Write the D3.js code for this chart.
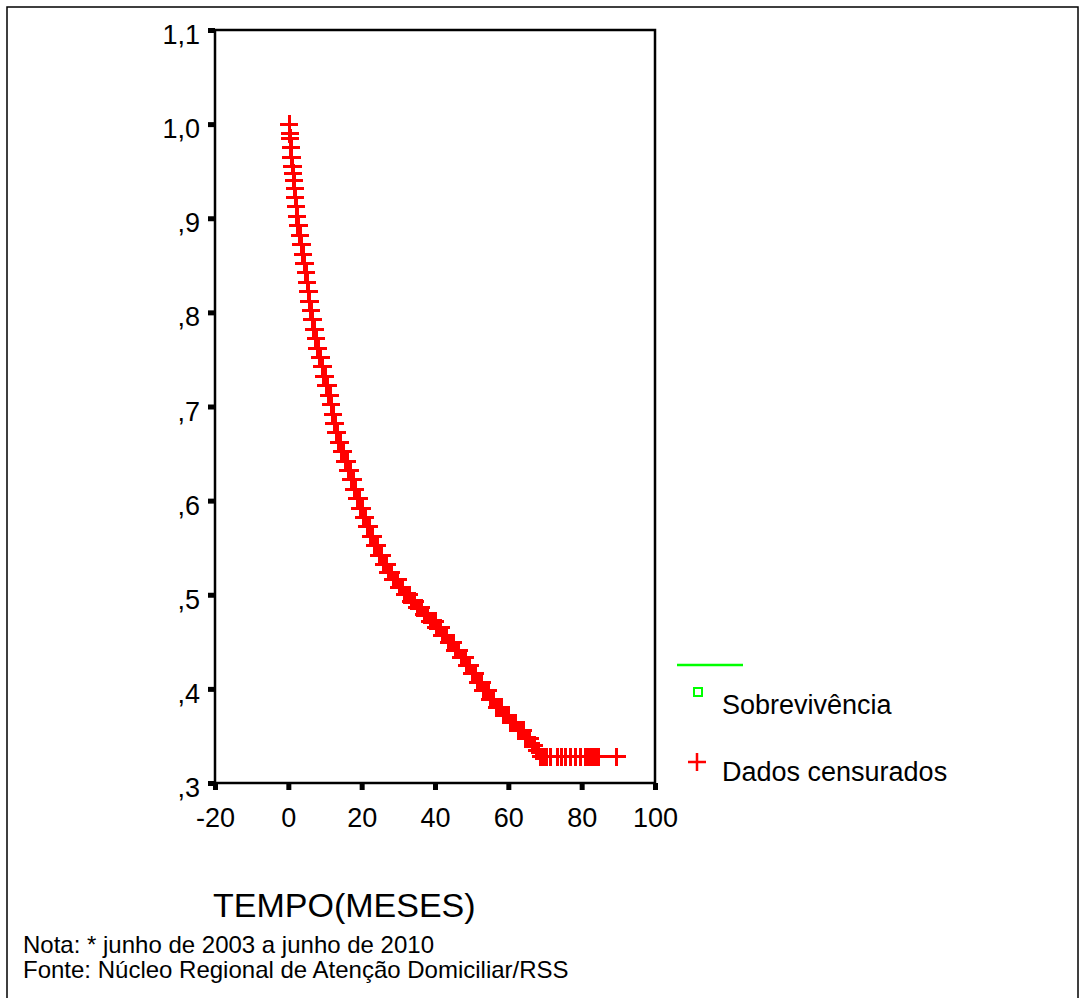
<!DOCTYPE html>
<html lang="pt">
<head>
    <meta charset="UTF-8">
    <title>Sobrevivência</title>
    <style>
        body { margin: 0; background: #fff; }
        text { font-family: Arial, "Liberation Sans", sans-serif; fill: #000; }
    </style>
</head>
<body>
<div class="chart"></div>

<script src="https://d3js.org/d3.v7.min.js"></script>
<script>
    // Kaplan-Meier steps (tempo em meses, sobrevivência acumulada)
    const stepTime = [0, 0.3, 0.5, 0.6, 0.8, 1.0, 1.2, 1.4, 1.6, 1.8, 2.0, 2.2, 2.5, 3.0, 3.4,
        3.8, 4.2, 4.6, 5.0, 5.3, 5.6, 6.0, 6.4, 6.8, 7.3, 7.8, 8.3, 8.9, 9.5, 10.2,
        10.9, 11.5, 12.0, 12.4, 12.9, 13.6, 14.5, 15.4, 16.2, 17.1, 17.9, 18.7, 19.5, 20.4, 21.3,
        22.3, 23.4, 24.6, 25.8, 27.0, 28.4, 30.0, 31.6, 33.3, 35.0, 36.8, 38.5, 40.2, 41.9, 43.6,
        45.3, 47.0, 48.5, 50.0, 51.5, 53.0, 54.8, 56.6, 58.5, 60.5, 62.5, 64.5, 66.0, 67.5, 68.5]
    const stepSurv = [1.0, 0.990, 0.985, 0.975, 0.965, 0.955, 0.948, 0.940, 0.932, 0.922, 0.912, 0.902, 0.892, 0.882, 0.872,
        0.862, 0.852, 0.842, 0.832, 0.822, 0.812, 0.802, 0.792, 0.782, 0.772, 0.762, 0.752, 0.742, 0.732, 0.722,
        0.712, 0.702, 0.692, 0.682, 0.672, 0.662, 0.652, 0.642, 0.632, 0.622, 0.612, 0.602, 0.592, 0.582, 0.572,
        0.562, 0.552, 0.542, 0.532, 0.524, 0.516, 0.508, 0.500, 0.493, 0.486, 0.479, 0.472, 0.465, 0.457, 0.449,
        0.441, 0.433, 0.425, 0.416, 0.407, 0.398, 0.389, 0.380, 0.372, 0.364, 0.356, 0.347, 0.340, 0.334, 0.328]
    // censored observations (tempo)
    const censorTime = [0.2, 0.25, 0.35, 0.4, 0.45, 0.55, 0.65, 0.7, 0.75, 0.85, 0.9, 0.95, 1.05, 1.1, 1.15,
        1.3, 1.35, 1.5, 1.55, 1.7, 1.75, 1.9, 1.95, 2.1, 2.15, 2.3, 2.4, 2.45, 2.6, 2.7,
        2.9, 3.1, 3.2, 3.3, 3.5, 3.6, 3.9, 4.0, 4.1, 4.3, 4.4, 4.5, 4.7, 4.8, 4.9,
        5.1, 5.2, 5.4, 5.5, 5.7, 5.8, 6.1, 6.2, 6.3, 6.5, 6.6, 6.9, 7.0, 7.2, 7.5,
        7.6, 7.9, 8.0, 8.2, 8.5, 8.7, 8.8, 9.2, 9.4, 9.6, 9.8, 10.0, 10.3, 10.5, 10.8,
        11.0, 11.2, 11.4, 11.7, 12.1, 12.2, 12.5, 12.6, 12.8, 13.0, 13.2, 13.4, 13.7, 13.9, 14.0,
        14.2, 14.6, 14.9, 15.0, 15.5, 15.8, 16.0, 16.3, 16.6, 16.9, 17.2, 17.5, 17.7, 18.0, 18.3,
        18.8, 19.0, 19.3, 19.6, 19.9, 20.1, 20.6, 20.8, 21.0, 21.5, 21.8, 22.0, 22.5, 22.8, 23.0,
        23.6, 23.9, 24.2, 24.8, 25.1, 25.5, 26.0, 26.3, 26.8, 27.2, 27.5, 28.0, 28.6, 28.9, 29.4,
        29.8, 30.2, 30.6, 31.0, 31.8, 32.2, 33.0, 33.5, 33.9, 34.5, 35.2, 35.6, 36.2, 37.0, 37.4,
        38.0, 38.7, 39.1, 39.6, 40.0, 40.4, 40.8, 41.5, 42.0, 42.5, 43.0, 43.8, 44.2, 45.0, 45.5,
        45.9, 46.5, 47.2, 47.5, 48.2, 48.7, 49.0, 49.5, 50.2, 50.6, 51.0, 51.7, 52.2, 52.8, 53.2,
        53.7, 54.5, 55.0, 55.5, 56.0, 56.8, 57.4, 58.0, 58.8, 59.3, 60.0, 60.7, 61.2, 61.8, 62.0,
        62.7, 63.2, 64.0, 64.7, 65.2, 65.8, 66.6, 67.0, 67.7, 68.0, 68.3, 68.8, 69.2, 69.6, 70.0,
        70.2, 70.5, 71.4, 73.3, 74.6, 75.5, 76.9, 78.3, 79.6, 81.0, 81.4, 81.8, 82.0, 82.5, 83.2,
        83.6, 84.0, 84.7, 89.5]
    const xTicks = [-20, 0, 20, 40, 60, 80, 100]
    const yTicks = [0.3, 0.4, 0.5, 0.6, 0.7, 0.8, 0.9, 1.0, 1.1]
    const legendLabels = ['Sobrevivência', 'Dados censurados']

    const plot = { left: 215, right: 655, top: 30, bottom: 783 }

    const svg = d3.select('.chart')
        .append('svg')
        .attr('width', 1085)
        .attr('height', 998)

    // outer frame
    svg.append('rect')
        .attr('x', 7).attr('y', 7)
        .attr('width', 1071).attr('height', 1010)
        .attr('fill', 'none')
        .attr('stroke', '#000')
        .attr('stroke-width', 1.5)

    const xScale = d3.scaleLinear().domain([-20, 100]).range([plot.left, plot.right])
    const yScale = d3.scaleLinear().domain([0.3, 1.1]).range([plot.bottom, plot.top])

    const survAt = t => stepSurv[d3.bisectRight(stepTime, t) - 1]

    // survival step line
    const linePts = stepTime.map((t, i) => [t, stepSurv[i]])
    linePts.push([d3.max(censorTime), stepSurv[stepSurv.length - 1]])
    svg.append('path')
        .datum(linePts)
        .attr('fill', 'none')
        .attr('stroke', '#00ff00')
        .attr('stroke-width', 2)
        .attr('d', d3.line()
            .x(d => xScale(d[0]))
            .y(d => yScale(d[1]))
            .curve(d3.curveStepAfter))

    // censored marks
    const plus = 'M-9,0H9M0,-9V9'
    svg.selectAll('.cens')
        .data(censorTime)
        .enter()
        .append('path')
        .attr('class', 'cens')
        .attr('d', plus)
        .attr('transform', d => 'translate(' + xScale(d) + ',' + yScale(survAt(d)) + ')')
        .attr('fill', 'none')
        .attr('stroke', '#ff0000')
        .attr('stroke-width', 3)
        .attr('shape-rendering', 'crispEdges')

    // plot box
    svg.append('rect')
        .attr('x', plot.left).attr('y', plot.top)
        .attr('width', plot.right - plot.left)
        .attr('height', plot.bottom - plot.top)
        .attr('fill', 'none')
        .attr('stroke', '#000')
        .attr('stroke-width', 2.5)

    const yFormat = d => d >= 1 ? d.toFixed(1).replace('.', ',') : ',' + Math.round(d * 10)

    const yAxis = svg.append('g')
        .attr('transform', 'translate(' + plot.left + ',0)')
        .call(d3.axisLeft(yScale).tickValues(yTicks).tickFormat(yFormat).tickSize(7).tickPadding(8))
    const xAxis = svg.append('g')
        .attr('transform', 'translate(0,' + plot.bottom + ')')
        .call(d3.axisBottom(xScale).tickValues(xTicks).tickFormat(d => d).tickSize(7).tickPadding(18))

    svg.selectAll('.domain').remove()
    svg.selectAll('.tick line')
        .attr('stroke', '#000')
        .attr('stroke-width', 5)
    svg.selectAll('.tick text')
        .attr('fill', '#000')
        .style('font-size', '27px')
        .style('font-family', 'Arial, "Liberation Sans", sans-serif')
    yAxis.selectAll('.tick text').attr('dy', '0.5em')

    // legend
    svg.append('line')
        .attr('x1', 677).attr('x2', 743)
        .attr('y1', 665).attr('y2', 665)
        .attr('stroke', '#00ff00')
        .attr('stroke-width', 2.5)
    svg.append('rect')
        .attr('x', 694).attr('y', 688)
        .attr('width', 8).attr('height', 8)
        .attr('fill', 'none')
        .attr('stroke', '#00ff00')
        .attr('stroke-width', 2)
    svg.append('path')
        .attr('d', plus)
        .attr('transform', 'translate(697,762)')
        .attr('stroke', '#ff0000')
        .attr('stroke-width', 2.5)
    svg.selectAll('.leg')
        .data(legendLabels)
        .enter()
        .append('text')
        .attr('class', 'leg')
        .attr('x', 722)
        .attr('y', (d, i) => 714 + i * 67)
        .style('font-size', '27px')
        .text(d => d)

    svg.append('text')
        .attr('x', 213).attr('y', 917)
        .style('font-size', '34px')
        .text('TEMPO(MESES)')

    svg.append('text')
        .attr('x', 23).attr('y', 953)
        .style('font-size', '24px')
        .text('Nota: * junho de 2003 a junho de 2010')
    svg.append('text')
        .attr('x', 23).attr('y', 978)
        .style('font-size', '24px')
        .text('Fonte: Núcleo Regional de Atenção Domiciliar/RSS')
</script>
</body>
</html>
